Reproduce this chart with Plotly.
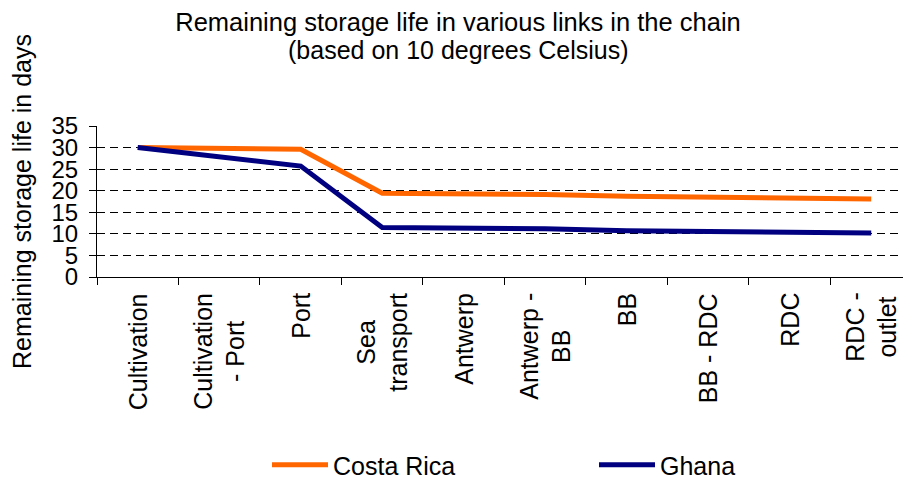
import plotly.graph_objects as go

# Links in the banana supply chain
categories = ["Cultivation", "Cultivation - Port", "Port", "Sea transport", "Antwerp",
              "Antwerp - BB", "BB", "BB - RDC", "RDC", "RDC - outlet"]
category_labels = ["Cultivation", "Cultivation<br>- Port", "Port", "Sea<br>transport", "Antwerp",
                   "Antwerp -<br>BB", "BB", "BB - RDC", "RDC", "RDC -<br>outlet"]

# Remaining storage life (days) at 10 °C
costa_rica = [30.0, 29.8, 29.6, 19.4, 19.3, 19.1, 18.7, 18.5, 18.3, 18.1]
ghana = [30.0, 27.9, 25.7, 11.5, 11.4, 11.2, 10.7, 10.6, 10.3, 10.2]

y_ticks = [0, 5, 10, 15, 20, 25, 30, 35]

FONT = "Arial, Liberation Sans, sans-serif"
W, H = 903, 478
M_L, M_R, M_T, M_B = 97, 0, 126, 201
PLOT_H = H - M_T - M_B

fig = go.Figure()
fig.add_trace(go.Scatter(x=categories, y=costa_rica, mode="lines", name="Costa Rica",
                         line=dict(color="#FF6600", width=5), legend="legend"))
fig.add_trace(go.Scatter(x=categories, y=ghana, mode="lines", name="Ghana",
                         line=dict(color="#000080", width=5), legend="legend2"))

# Rotated, centred category labels below the axis
for cat, lab in zip(categories, category_labels):
    fig.add_annotation(x=cat, y=0, xref="x", yref="paper", text=lab, showarrow=False,
                       textangle=-90, align="center", xanchor="center", yanchor="top",
                       yshift=-14, font=dict(family=FONT, size=25, color="black"))

# Second title line
fig.add_annotation(x=(458 - M_L) / (W - M_L - M_R), y=(H - M_B - 50) / PLOT_H,
                   xref="paper", yref="paper", text="(based on 10 degrees Celsius)",
                   showarrow=False, xanchor="center", yanchor="middle",
                   font=dict(family=FONT, size=25, color="black"))

legend_style = dict(orientation="h", xref="container", yref="container", xanchor="left",
                    y=1 - 465 / H, yanchor="middle", bgcolor="rgba(0,0,0,0)", itemwidth=56,
                    font=dict(family=FONT, size=25, color="black"))

fig.update_layout(
    width=W, height=H,
    margin=dict(l=M_L, r=M_R, t=M_T, b=M_B, pad=0),
    paper_bgcolor="white", plot_bgcolor="white",
    font=dict(family=FONT, size=25, color="black"),
    title=dict(text="Remaining storage life in various links in the chain",
               x=458 / W, xref="container", xanchor="center",
               y=1 - 22 / H, yref="container", yanchor="middle",
               font=dict(family=FONT, size=25.5, color="black")),
    showlegend=True,
    legend=dict(x=267 / W, **legend_style),
    legend2=dict(x=594 / W, **legend_style),
    xaxis=dict(type="category", categoryorder="array", categoryarray=categories,
               range=[-0.5, 9.39], showticklabels=False, tickson="boundaries",
               ticks="outside", ticklen=7, tickcolor="black", showline=True,
               linecolor="black", linewidth=1, showgrid=False, zeroline=False, fixedrange=True),
    yaxis=dict(range=[0, 35], tickvals=y_ticks, ticks="outside", ticklen=7, tickcolor="black",
               showline=True, linecolor="black", linewidth=1, showgrid=True, gridcolor="black",
               gridwidth=1, griddash="8px,5px", zeroline=False, ticklabelstandoff=6,
               title=dict(text="Remaining storage life in days", standoff=12,
                          font=dict(family=FONT, size=25, color="black")),
               tickfont=dict(family=FONT, size=24, color="black"), fixedrange=True),
)

fig.write_html("out.html")
